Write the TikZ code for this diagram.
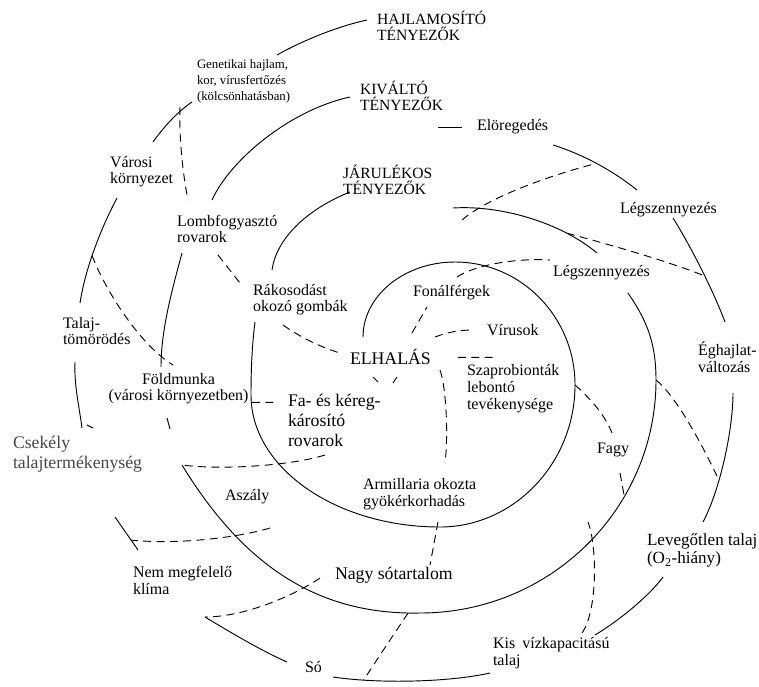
\documentclass[tikz,border=0pt]{standalone}
\usepackage{fontspec}
\setmainfont{Liberation Serif}
\usetikzlibrary{calc}

\tikzset{
  lbl/.style={anchor=west, align=left, inner sep=0pt, outer sep=0pt, font=\fontsize{12}{12.5}\selectfont},
  biglbl/.style={lbl, font=\fontsize{13.3}{15}\selectfont},
  headlbl/.style={lbl, font=\fontsize{11.7}{12}\selectfont},
  smalllbl/.style={lbl, font=\fontsize{9.6}{12}\selectfont},
  arc line/.style={line width=0.7pt},
  link line/.style={line width=0.7pt, dash pattern=on 6pt off 4pt},
}

\begin{document}
\begin{tikzpicture}[x=0.75pt,y=0.75pt,yscale=-1,xscale=1]
        \useasboundingbox (0,0) rectangle (759,686);

        % Text Node
        \node[headlbl] (hajl) at (377,26) {HAJLAMOSÍTÓ\\TÉNYEZŐK};
        % Text Node
        \node[headlbl] (kival) at (360,96) {KIVÁLTÓ\\TÉNYEZŐK};
        % Text Node
        \node[headlbl] (jarul) at (343,180) {JÁRULÉKOS\\TÉNYEZŐK};
        % Text Node
        \node[smalllbl] (genet) at (197,81) {Genetikai hajlam,\\kor, vírusfertőzés\\(kölcsönhatásban)};
        % Text Node
        \node[lbl] (varosi) at (110,171.5) {Városi\\környezet};
        % Text Node
        \node[lbl] (lomb) at (177,229) {Lombfogyasztó\\rovarok};
        % Text Node
        \node[lbl] (rakos) at (253,299.5) {Rákosodást\\okozó gombák};
        % Text Node
        \node[lbl] (talaj) at (63,331) {Talaj-\\tömörödés};
        % Text Node
        \node[lbl, anchor=center, align=center] (foldm) at (178.5,388.5) {Földmunka\\(városi környezetben)};
        % Text Node
        \node[biglbl] (fakereg) at (288,420) {Fa- és kéreg-\\károsító\\rovarok};
        % Text Node
        \node[biglbl] (elhalas) at (350,357) {ELHALÁS};
        % Text Node
        \node[lbl] (fonal) at (413,293) {Fonálférgek};
        % Text Node
        \node[lbl] (virus) at (487,330) {Vírusok};
        % Text Node
        \node[lbl] (szapro) at (467,388.5) {Szaprobionták\\lebontó\\tevékenysége};
        % Text Node
        \node[lbl] (armill) at (363,494) {Armillaria okozta\\gyökérkorhadás};
        % Text Node
        \node[biglbl, text=black!72] (csek) at (13,454) {Csekély\\talajtermékenység};
        % Text Node
        \node[lbl] (aszaly) at (225,497) {Aszály};
        % Text Node
        \node[biglbl] (nagy) at (335,575) {Nagy sótartalom};
        % Text Node
        \node[lbl] (nem) at (133,580.5) {Nem megfelelő\\klíma};
        % Text Node
        \node[lbl] (so) at (305,667) {Só};
        % Text Node
        \node[lbl] (kis) at (493,653) {Kis\hspace{0.45em}vízkapacitású\\talaj};
        % Text Node
        \node[lbl, font=\fontsize{12.8}{13.5}\selectfont] (leveg) at (647,550.5) {Levegőtlen talaj\\(O\textsubscript{2}-hiány)};
        % Text Node
        \node[lbl] (eghaj) at (698,357) {Éghajlat-\\változás};
        % Text Node
        \node[lbl] (fagy) at (597,450) {Fagy};
        % Text Node
        \node[lbl] (legszi) at (553,273) {Légszennyezés};
        % Text Node
        \node[lbl] (legszo) at (620,210) {Légszennyezés};
        % Text Node
        \node[lbl] (elore) at (477,127) {Elöregedés};

        \coordinate (midend) at ($(csek.west)+(169,11)$);

        %Spiral: inner turn
        \draw[arc line] ($(elhalas.west)+(13,-20)$) .. controls (363,296) and (404,262) .. (455,262) .. controls (521,262) and (575,317) .. (575,385) coordinate (inr) .. controls (575,463) and (514,527) .. (440,527) .. controls (336,527) and (251,468) .. (251,395) .. controls (251,370) and (252,345) .. ($(rakos.west)+(2,22.5)$) ;
        \draw[arc line] ($(rakos.west)+(19,-29.5)$) .. controls (276,240) and (305,210) .. ($(jarul.west)+(7,12)$) ;

        %Spiral: middle turn
        \draw[arc line] ($(jarul.west)+(110,28)$) .. controls (500,205) and (560,222) .. ($(legszi.west)+(44,-20)$) coordinate[pos=0.76] (m1p) ;
        \draw[arc line] ($(legszi.west)+(75,20)$) .. controls (645,318) and (656,340) .. (656,380) coordinate (m2r) .. controls (656,509) and (550,613) .. (420,613) coordinate[pos=0.33] (m2f) .. controls (320,615) and (245,568) .. (midend) coordinate[pos=0.04] (m2b) ;
        \draw[arc line] ($(foldm.center)+(-11.5,29.5)$) -- +(3,11) ;
        \draw[arc line] ($(foldm.center)+(-17.5,-21.5)$) .. controls (161,330) and (172,290) .. ($(lomb.west)+(5,24)$) ;
        \draw[arc line] ($(lomb.west)+(35,-29)$) .. controls (230,160) and (290,110) .. ($(kival.west)+(-10,1)$) ;

        %Spiral: outer turn
        \draw[arc line] ($(elore.west)+(-39,0.4)$) -- ($(elore.west)+(-15,0.4)$) ;
        \draw[arc line] ($(elore.west)+(76,18)$) .. controls (582,154) and (612,170) .. ($(legszo.west)+(17,-20)$) coordinate[pos=0.5] (o2p) ;
        \draw[arc line] ($(legszo.west)+(53,8)$) .. controls (690,245) and (713,290) .. ($(eghaj.west)+(27,-35)$) coordinate[pos=0.57] (o3p) ;
        \draw[arc line] ($(eghaj.west)+(35,36)$) .. controls (733,430) and (720,490) .. ($(leveg.west)+(56,-28.5)$) coordinate[pos=0.65] (o4p) ;
        \draw[arc line] ($(leveg.west)+(16,26.5)$) .. controls (650,595) and (620,620) .. ($(kis.west)+(102,-18)$) ;
        \draw[arc line] ($(kis.west)+(-3,20)$) .. controls (450,682) and (380,684) .. ($(so.west)+(28,10)$) coordinate[pos=0.8] (o6p) ;
        \draw[arc line] ($(so.west)+(-18,-5)$) .. controls (260,650) and (230,632) .. ($(nem.west)+(72,36.5)$) coordinate (o7e) ;
        \draw[arc line] ($(nem.west)+(5,-30.5)$) -- ($(csek.west)+(102,63)$) coordinate[pos=0.3] (o8p) ;
        \draw[arc line] ($(csek.west)+(69,-26)$) .. controls (79,405) and (74,385) .. ($(talaj.west)+(12,31)$) ;
        \draw[arc line] ($(talaj.west)+(17,-28)$) .. controls (85,270) and (100,230) .. ($(varosi.west)+(7,26.5)$) coordinate[pos=0.45] (o10p) ;
        \draw[arc line] ($(varosi.west)+(43,-29.5)$) .. controls (163,128) and (177,112) .. ($(genet.west)+(-5,21)$) ;
        \draw[arc line] ($(genet.west)+(80,-26)$) .. controls (300,42) and (335,27) .. ($(hajl.west)+(-10,-6)$) ;

        %Dashed links
        \draw[link line] ($(genet.west)+(-17,26)$) .. controls (179,140) and (183,175) .. ($(lomb.west)+(11,-29)$) ;
        \draw[link line] (o10p) .. controls (105,290) and (140,345) .. ($(foldm.center)+(-5.5,-23.5)$) ;
        \draw[link line] ($(csek.west)+(74,-29)$) -- +(6,3) ;
        \draw[link line] ($(lomb.west)+(41,26)$) -- ($(rakos.west)+(-13,-16.5)$) ;
        \draw[link line] ($(rakos.west)+(30,25.5)$) .. controls (300,337) and (320,347) .. ($(elhalas.west)+(-10,-4)$) ;
        \draw[link line] ($(elhalas.west)+(62,-24)$) -- ($(fonal.west)+(14,14)$) ;
        \draw[link line] ($(elhalas.west)+(85,-20)$) .. controls (448,332) and (460,330) .. ($(virus.west)+(-14,0)$) ;
        \draw[link line] ($(elhalas.west)+(108,0.4)$) -- ($(szapro.west)+(26,-31.1)$) ;
        \draw[link line] ($(elhalas.west)+(90,13)$) .. controls (447,390) and (448,440) .. ($(armill.west)+(82,-31)$) ;
        \draw[link line] ($(elhalas.west)+(23,20)$) -- +(5,5) ;
        \draw[link line] ($(elhalas.west)+(47,20)$) -- +(-4,6) ;
        \draw[link line] ($(foldm.center)+(73.5,13.9)$) -- ($(fakereg.west)+(-12,-17.6)$) ;
        \draw[link line] ($(fakereg.west)+(37,35)$) .. controls (290,466) and (220,470) .. (midend) ;
        \draw[link line] ($(aszaly.west)+(45,31)$) .. controls (240,537) and (180,545) .. (o8p) ;
        \draw[link line] ($(nagy.west)+(-15,3)$) .. controls (295,595) and (245,617) .. (o7e) ;
        \draw[link line] ($(armill.west)+(75,28)$) -- ($(nagy.west)+(95,-10)$) ;
        \draw[link line] (m2b) .. controls (400,625) and (380,655) .. (o6p) ;
        \draw[link line] ($(kis.west)+(89,-20)$) .. controls (598,610) and (597,545) .. ($(kis.west)+(95,-131)$) ;
        \draw[link line] ($(fagy.west)+(23,23)$) -- (m2f) ;
        \draw[link line] (inr) .. controls (590,398) and (605,415) .. ($(fagy.west)+(15,-17)$) ;
        \draw[link line] (m2r) .. controls (675,395) and (700,440) .. (o4p) ;
        \draw[link line] (m1p) .. controls (600,242) and (665,260) .. (o3p) ;
        \draw[link line] ($(fonal.west)+(44,-16)$) .. controls (475,265) and (515,258) .. ($(legszi.west)+(-3,-13)$) ;
        \draw[link line] ($(jarul.west)+(119,40)$) .. controls (485,200) and (540,178) .. (o2p) ;

\end{tikzpicture}
\end{document}
